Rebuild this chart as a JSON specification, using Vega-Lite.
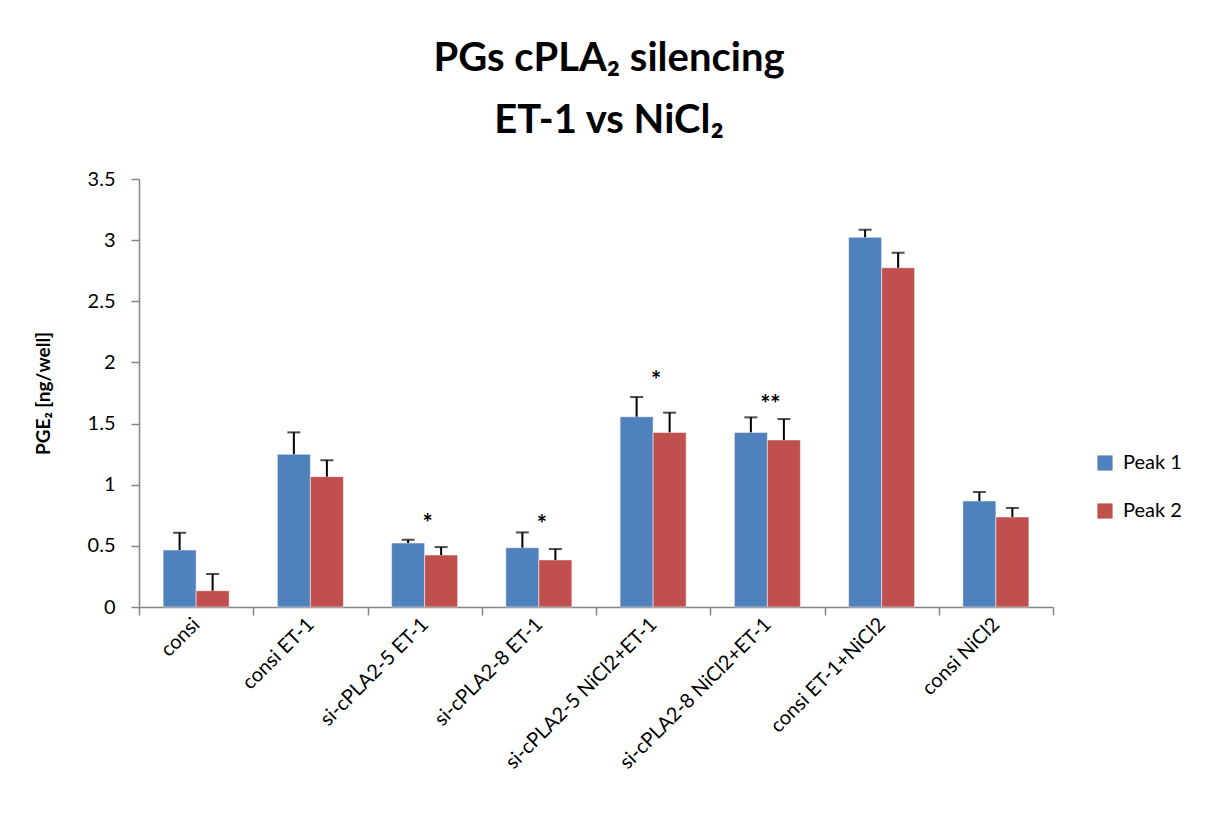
{
  "$schema": "https://vega.github.io/schema/vega-lite/v6.json",
  "width": 914,
  "height": 428,
  "autosize": {"type": "none"},
  "padding": {"left": 139, "top": 179, "right": 160, "bottom": 219},
  "background": "white",
  "title": {
    "text": ["PGs cPLA₂ silencing", "ET-1 vs NiCl₂"],
    "font": "Lato",
    "fontSize": 40,
    "fontWeight": "bold",
    "color": "black",
    "lineHeight": 62,
    "offset": 28,
    "dx": 13,
    "anchor": "middle"
  },
  "datasets": {
    "bars": [
      {"cat": "consi", "peak": "Peak 1", "value": 0.466, "err": 0.607},
      {"cat": "consi", "peak": "Peak 2", "value": 0.133, "err": 0.27},
      {"cat": "consi ET-1", "peak": "Peak 1", "value": 1.249, "err": 1.428},
      {"cat": "consi ET-1", "peak": "Peak 2", "value": 1.066, "err": 1.2},
      {"cat": "si-cPLA2-5 ET-1", "peak": "Peak 1", "value": 0.523, "err": 0.55},
      {"cat": "si-cPLA2-5 ET-1", "peak": "Peak 2", "value": 0.425, "err": 0.49},
      {"cat": "si-cPLA2-8 ET-1", "peak": "Peak 1", "value": 0.485, "err": 0.61},
      {"cat": "si-cPLA2-8 ET-1", "peak": "Peak 2", "value": 0.385, "err": 0.474},
      {"cat": "si-cPLA2-5 NiCl2+ET-1", "peak": "Peak 1", "value": 1.556, "err": 1.717},
      {"cat": "si-cPLA2-5 NiCl2+ET-1", "peak": "Peak 2", "value": 1.428, "err": 1.589},
      {"cat": "si-cPLA2-8 NiCl2+ET-1", "peak": "Peak 1", "value": 1.428, "err": 1.551},
      {"cat": "si-cPLA2-8 NiCl2+ET-1", "peak": "Peak 2", "value": 1.366, "err": 1.537},
      {"cat": "consi ET-1+NiCl2", "peak": "Peak 1", "value": 3.023, "err": 3.085},
      {"cat": "consi ET-1+NiCl2", "peak": "Peak 2", "value": 2.774, "err": 2.897},
      {"cat": "consi NiCl2", "peak": "Peak 1", "value": 0.867, "err": 0.94},
      {"cat": "consi NiCl2", "peak": "Peak 2", "value": 0.736, "err": 0.81}
    ],
    "stars": [
      {"cat": "si-cPLA2-5 ET-1", "label": "*", "pos": 0.72},
      {"cat": "si-cPLA2-8 ET-1", "label": "*", "pos": 0.71},
      {"cat": "si-cPLA2-5 NiCl2+ET-1", "label": "*", "pos": 1.89},
      {"cat": "si-cPLA2-8 NiCl2+ET-1", "label": "**", "pos": 1.69}
    ]
  },
  "config": {
    "font": "Lato",
    "view": {"stroke": null},
    "axis": {
      "domainColor": "#868686",
      "domainWidth": 1.5,
      "tickColor": "#868686",
      "tickWidth": 1.5,
      "labelColor": "black",
      "labelFont": "Lato",
      "grid": false
    }
  },
  "layer": [
    {
      "data": {"name": "bars"},
      "mark": {"type": "bar", "stroke": "white", "strokeOpacity": 0.5, "strokeWidth": 1},
      "encoding": {
        "x": {
          "field": "cat",
          "type": "nominal",
          "sort": null,
          "scale": {"paddingInner": 0, "paddingOuter": 0},
          "axis": {
            "title": null,
            "labelAngle": -45,
            "labelAlign": "right",
            "labelBaseline": "middle",
            "labelFontSize": 20,
            "labelPadding": 6,
            "tickBand": "extent",
            "ticks": true,
            "tickSize": 8,
            "labelLimit": 400
          }
        },
        "xOffset": {"field": "peak", "type": "nominal", "sort": ["Peak 1", "Peak 2"], "scale": {"paddingInner": 0, "paddingOuter": 0.73}},
        "y": {
          "field": "value",
          "type": "quantitative",
          "scale": {"domain": [0, 3.5]},
          "axis": {
            "title": "PGE₂ [ng/well]",
            "titleFont": "Lato",
            "titleFontSize": 19,
            "titleFontWeight": "bold",
            "titleColor": "black",
            "titleX": -86,
            "titleY": 214,
            "titleAngle": -90,
            "titleAlign": "center",
            "values": [0, 0.5, 1, 1.5, 2, 2.5, 3, 3.5],
            "labelFontSize": 20,
            "tickSize": 8,
            "labelPadding": 16,
            "format": "~g"
          }
        },
        "color": {
          "field": "peak",
          "type": "nominal",
          "scale": {"domain": ["Peak 1", "Peak 2"], "range": ["#4F81BD", "#C0504D"]},
          "legend": {
            "title": null,
            "orient": "none",
            "legendX": 956,
            "legendY": 274,
            "symbolType": "square",
            "symbolSize": 230,
            "symbolStrokeWidth": 0,
            "labelFontSize": 20,
            "labelColor": "black",
            "labelFont": "Lato",
            "rowPadding": 28,
            "labelOffset": 8
          }
        }
      }
    },
    {
      "data": {"name": "bars"},
      "mark": {"type": "rule", "color": "black", "strokeWidth": 2},
      "encoding": {
        "x": {"field": "cat", "type": "nominal", "sort": null},
        "xOffset": {"field": "peak", "type": "nominal", "sort": ["Peak 1", "Peak 2"]},
        "y": {"field": "value", "type": "quantitative"},
        "y2": {"field": "err"}
      }
    },
    {
      "data": {"name": "bars"},
      "mark": {"type": "tick", "color": "black", "thickness": 2, "size": 13, "orient": "horizontal"},
      "encoding": {
        "x": {"field": "cat", "type": "nominal", "sort": null},
        "xOffset": {"field": "peak", "type": "nominal", "sort": ["Peak 1", "Peak 2"]},
        "y": {"field": "err", "type": "quantitative"}
      }
    },
    {
      "data": {"name": "stars"},
      "mark": {"type": "text", "fontSize": 24, "font": "Lato", "fontWeight": "bold", "color": "black", "baseline": "middle", "dx": 3, "dy": 6},
      "encoding": {
        "x": {"field": "cat", "type": "nominal", "sort": null},
        "y": {"field": "pos", "type": "quantitative"},
        "text": {"field": "label"}
      }
    }
  ]
}
